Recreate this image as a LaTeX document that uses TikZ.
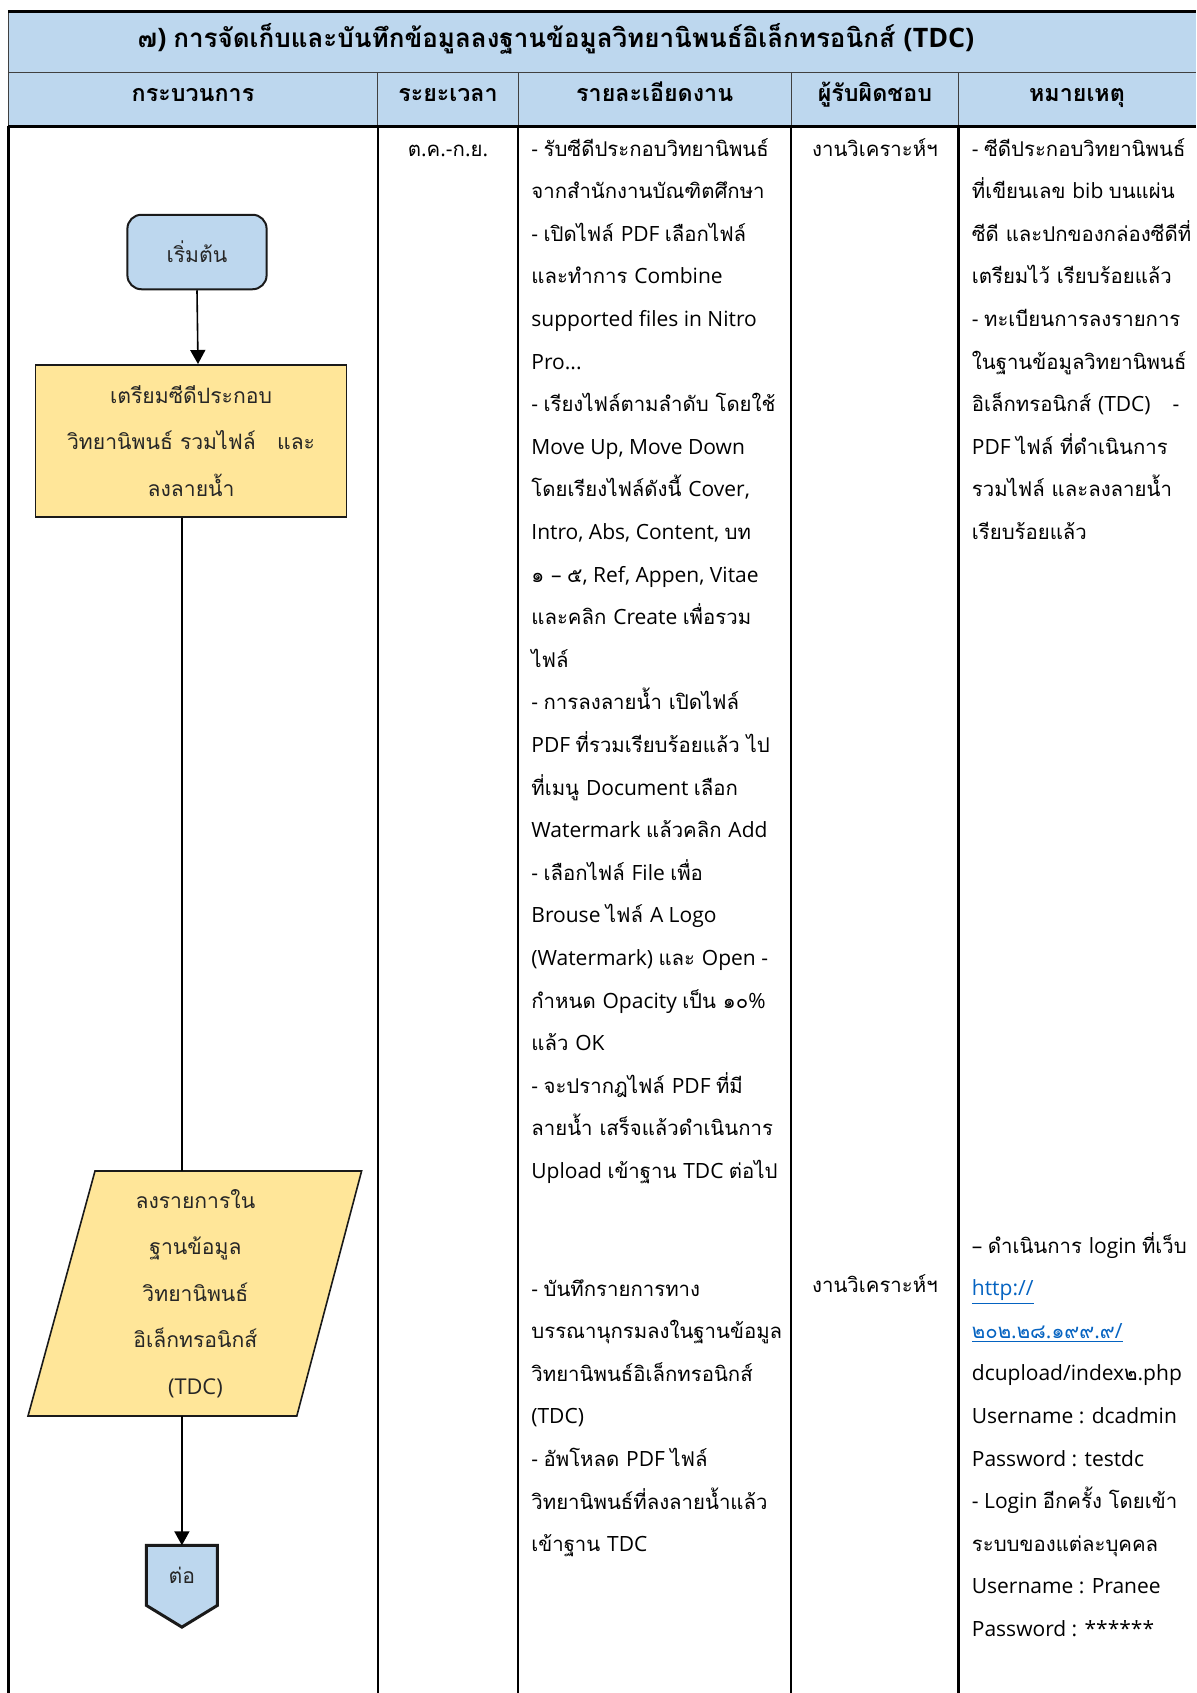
\documentclass[tikz,border=0pt]{standalone}
\usepackage{fontspec}
\setmainfont{Open Sans}
\newfontfamily\latinfont{Open Sans}
\newfontfamily\thaifont[Script=Thai,Scale=0.97]{Loma}
\usetikzlibrary{arrows.meta,calc,backgrounds}

% Thai characters switch to the Thai family, everything else uses the Latin one
\XeTeXinterchartokenstate=1
\newXeTeXintercharclass\ThaiCls
\newcount\thaicp
\thaicp="0E00
\loop
  \XeTeXcharclass\thaicp=\ThaiCls
  \ifnum\thaicp<"0E7F \advance\thaicp by 1
\repeat
\XeTeXinterchartoks 0 \ThaiCls = {\thaifont}
\XeTeXinterchartoks 4095 \ThaiCls = {\thaifont}
\XeTeXinterchartoks \ThaiCls 0 = {\latinfont}
\XeTeXinterchartoks 4095 0 = {\latinfont}

\definecolor{hdrblue}{HTML}{BDD7EE}
\definecolor{procgold}{HTML}{FFE699}
\definecolor{linkblue}{HTML}{0563C1}
\definecolor{edge}{HTML}{1A1A1A}
\definecolor{thinrule}{HTML}{404040}

\begin{document}
\begin{tikzpicture}[x=0.5pt,y=-0.5pt,
  thickrule/.style={line width=1.5pt,black},
  bodyrule/.style={line width=1.2pt,black},
  hdrrule/.style={line width=0.6pt,thinrule},
  titletext/.style={inner sep=0pt,anchor=base,font=\fontsize{13.4}{16}\selectfont\bfseries},
  hdrtext/.style={inner sep=0pt,anchor=base,font=\fontsize{12}{15}\selectfont\bfseries},
  % multi-line cells are placed by the baseline of their last line
  celltext/.style={inner sep=0pt,anchor=base west,align=left,font=\fontsize{10.5}{21.3}\selectfont},
  cellcenter/.style={inner sep=0pt,anchor=base,font=\fontsize{10.5}{21.3}\selectfont},
  shapetext/.style={align=center,inner sep=0pt,text=black!85,font=\fontsize{10.9}{23.2}\selectfont},
  flow/.style={line width=0.8pt,black},
  flowarrow/.style={flow,-{Triangle[width=7.5pt,length=7pt]}}
]
\useasboundingbox (0,0) rectangle (1196,1693);

% ---- table header bands ----
\fill[hdrblue] (8.6,11) rectangle (1196,126.3);
\draw[hdrrule] (8.6,72.3) -- (1196,72.3);
\draw[hdrrule] (8.6,11) -- (8.6,126.3);
\foreach \cx in {377.8,518.1,791.2,958.5}
  \draw[hdrrule] (\cx,72.3) -- (\cx,126.3);
\draw[thickrule] (7.8,11) -- (1196,11);
\draw[thickrule] (7.8,126.3) -- (1196,126.3);

% ---- body column rules ----
\foreach \cx in {8.6,377.8,518.1,791.2,958.5}
  \draw[bodyrule] (\cx,126.3) -- (\cx,1693);

% ---- header texts ----
\node[titletext] (title) at (556,47) {๗) การจัดเก็บและบันทึกข้อมูลลงฐานข้อมูลวิทยานิพนธ์อิเล็กทรอนิกส์ (TDC)};
\node[hdrtext] (h1) at (193,101) {กระบวนการ};
\node[hdrtext] (h2) at (448,101) {ระยะเวลา};
\node[hdrtext] (h3) at (654.7,101) {รายละเอียดงาน};
\node[hdrtext] (h4) at (874.9,101) {ผู้รับผิดชอบ};
\node[hdrtext] (h5) at (1077,101) {หมายเหตุ};

% ---- period and owner columns ----
\node[cellcenter] (period) at (448,156) {ต.ค.-ก.ย.};
\node[cellcenter] (owner1) at (874.9,156) {งานวิเคราะห์ฯ};
\node[cellcenter] (owner2) at (874.9,1292) {งานวิเคราะห์ฯ};

% ---- work details ----
\node[celltext] (detail1) at (531,1178.4) {- รับซีดีประกอบวิทยานิพนธ์\\
จากสำนักงานบัณฑิตศึกษา\\
- เปิดไฟล์ PDF เลือกไฟล์\\
และทำการ Combine\\
supported files in Nitro\\
Pro...\\
- เรียงไฟล์ตามลำดับ โดยใช้\\
Move Up, Move Down\\
โดยเรียงไฟล์ดังนี้ Cover,\\
Intro, Abs, Content, บท\\
๑ – ๕, Ref, Appen, Vitae\\
และคลิก Create เพื่อรวม\\
ไฟล์\\
- การลงลายน้ำ เปิดไฟล์\\
PDF ที่รวมเรียบร้อยแล้ว ไป\\
ที่เมนู Document เลือก\\
Watermark แล้วคลิก Add\\
- เลือกไฟล์ File เพื่อ\\
Brouse ไฟล์ A Logo\\
(Watermark) และ Open -\\
กำหนด Opacity เป็น ๑๐\%\\
แล้ว OK\\
- จะปรากฎไฟล์ PDF ที่มี\\
ลายน้ำ เสร็จแล้วดำเนินการ\\
Upload เข้าฐาน TDC ต่อไป};

\node[celltext] (detail2) at (531,1551.6) {- บันทึกรายการทาง\\
บรรณานุกรมลงในฐานข้อมูล\\
วิทยานิพนธ์อิเล็กทรอนิกส์\\
(TDC)\\
- อัพโหลด PDF ไฟล์\\
วิทยานิพนธ์ที่ลงลายน้ำแล้ว\\
เข้าฐาน TDC};

% ---- remarks ----
\node[celltext] (note1) at (971.5,539.4) {- ซีดีประกอบวิทยานิพนธ์\\
ที่เขียนเลข bib บนแผ่น\\
ซีดี และปกของกล่องซีดีที่\\
เตรียมไว้ เรียบร้อยแล้ว\\
- ทะเบียนการลงรายการ\\
ในฐานข้อมูลวิทยานิพนธ์\\
อิเล็กทรอนิกส์ (TDC)\hspace{11pt}-\\
PDF ไฟล์ ที่ดำเนินการ\\
รวมไฟล์ และลงลายน้ำ\\
เรียบร้อยแล้ว};

\node[celltext] (note2) at (971.5,1636.4) {– ดำเนินการ login ที่เว็บ\\
\textcolor{linkblue}{\underline{http://}}\\
\textcolor{linkblue}{\underline{๒๐๒.๒๘.๑๙๙.๙/}}\\
dcupload/index๒.php\\
Username : dcadmin\\
Password : testdc\\
- Login อีกครั้ง โดยเข้า\\
ระบบของแต่ละบุคคล\\
Username : Pranee\\
Password : ******};

% ---- flowchart ----
\node[draw=edge,line width=1pt,fill=hdrblue,rounded corners=7pt,
      minimum width=69.6pt,minimum height=37.25pt,shapetext] (start) at (197,252) {เริ่มต้น};

\node[draw=edge,line width=0.8pt,fill=procgold,
      minimum width=155.45pt,minimum height=76.1pt,shapetext] (prep) at (191.05,440.9)
      {เตรียมซีดีประกอบ\\วิทยานิพนธ์ รวมไฟล์ \ \ และ\\ลงลายน้ำ};

% data (parallelogram) step
\coordinate (pTL) at (95,1171);
\coordinate (pTR) at (361.6,1171);
\coordinate (pBR) at (296.8,1416);
\coordinate (pBL) at (28,1416);
\filldraw[draw=edge,line width=0.8pt,fill=procgold] (pTL) -- (pTR) -- (pBR) -- (pBL) -- cycle;
\node[minimum width=134pt,minimum height=122.5pt,shapetext] (record) at (195.4,1293.5)
      {ลงรายการใน\\ฐานข้อมูล\\วิทยานิพนธ์\\อิเล็กทรอนิกส์\\(TDC)};

% off-page connector
\node[minimum width=35.1pt,minimum height=29.65pt,shapetext] (cont) at (181.9,1575.35) {ต่อ};
\begin{scope}[on background layer]
  \filldraw[draw=edge,line width=1.5pt,fill=hdrblue,line join=miter]
    (cont.north west) -- (cont.north east) -- (cont.south east)
    -- ($(cont.south)+(0,21.7)$) -- (cont.south west) -- cycle;
\end{scope}

% connectors
\draw[flowarrow] (start.south) -- ([xshift=0.5pt]start.south |- prep.north);
\draw[flow] (prep.south -| cont.north) -- (record.north -| cont.north);
\draw[flowarrow] (record.south -| cont.north) -- (cont.north);
\end{tikzpicture}
\end{document}
